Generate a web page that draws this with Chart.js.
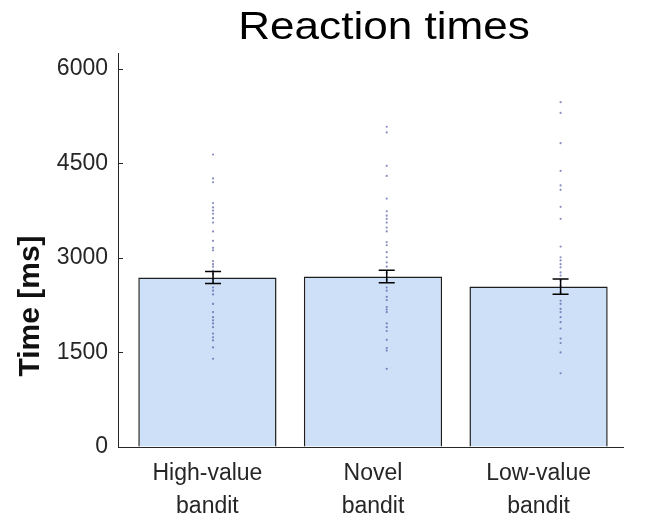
<!DOCTYPE html>
<html><head><meta charset="utf-8">
<script src="https://cdn.jsdelivr.net/npm/chart.js@4/dist/chart.umd.min.js"></script>
<style>html,body{margin:0;padding:0;background:#fff}#wrap{width:649px;height:523px}</style>
</head><body><div id="wrap"><canvas id="c" width="649" height="523"></canvas></div>
<script>
const categories = [["High-value","bandit"],["Novel","bandit"],["Low-value","bandit"]];
const meanRT = [2690, 2705, 2545];
const semRT = [95, 100, 120];
const yTicks = [0, 1500, 3000, 4500, 6000];
const highValueRT = [4640, 4260, 4200, 3870, 3800, 3750, 3700, 3630, 3560, 3420, 3270, 3160, 3120, 2950, 2900, 2860, 2800, 2740, 2660, 2600, 2530, 2480, 2420, 2270, 2140, 2060, 2010, 1960, 1900, 1800, 1740, 1690, 1580, 1400];
const novelRT = [5080, 4990, 4460, 4300, 3940, 3740, 3670, 3620, 3560, 3480, 3420, 3250, 3200, 3090, 3010, 2930, 2860, 2760, 2650, 2530, 2480, 2380, 2330, 2220, 2180, 2140, 1960, 1900, 1840, 1700, 1570, 1530, 1240];
const lowValueRT = [5470, 5300, 4820, 4380, 4150, 4080, 3810, 3620, 3180, 3010, 2960, 2900, 2850, 2770, 2720, 2640, 2560, 2450, 2320, 2270, 2190, 2140, 2060, 1980, 1880, 1720, 1650, 1500, 1170];
const dotColumnX = [1.034, 2.083, 3.133];
const groups = [highValueRT, novelRT, lowValueRT];

const TXT = '#262626';
const FONT = '"Liberation Sans", Arial, sans-serif';

const decor = {
  id: 'decor',
  afterDatasetsDraw(chart) {
    const ctx = chart.ctx, xs = chart.scales.x, ys = chart.scales.y;
    ctx.save();
    ctx.strokeStyle = '#000';
    ctx.lineWidth = 1.5;
    meanRT.forEach((m, i) => {
      const x = xs.getPixelForValue(dotColumnX[i]);
      const yt = ys.getPixelForValue(m + semRT[i]);
      const yb = ys.getPixelForValue(m - semRT[i]);
      ctx.beginPath();
      ctx.moveTo(x, yt); ctx.lineTo(x, yb);
      ctx.moveTo(x - 8, yt); ctx.lineTo(x + 8, yt);
      ctx.moveTo(x - 8, yb); ctx.lineTo(x + 8, yb);
      ctx.stroke();
    });
    ctx.restore();
  },
  afterDraw(chart) {
    const ctx = chart.ctx, ys = chart.scales.y, area = chart.chartArea;
    ctx.save();
    ctx.strokeStyle = TXT; ctx.lineWidth = 1;
    yTicks.forEach(v => {
      const y = Math.round(ys.getPixelForValue(v)) + 0.5;
      ctx.beginPath(); ctx.moveTo(area.left, y); ctx.lineTo(area.left + 5, y); ctx.stroke();
    });
    ctx.fillStyle = '#000';
    ctx.font = '38px ' + FONT;
    ctx.textAlign = 'center'; ctx.textBaseline = 'alphabetic';
    ctx.save();
    ctx.translate(384, 39);
    ctx.scale(1.16, 1);
    ctx.fillText('Reaction times', 0, 0);
    ctx.restore();
    ctx.fillStyle = '#111';
    ctx.font = 'bold 30px ' + FONT;
    ctx.translate(38.5, 306);
    ctx.rotate(-Math.PI / 2);
    ctx.fillText('Time [ms]', 0, 0);
    ctx.restore();
  }
};

const datasets = [{
  type: 'bar',
  data: meanRT.map((v, i) => ({x: i + 1, y: v})),
  backgroundColor: 'rgb(205,224,247)',
  borderColor: '#1e1e1e',
  borderWidth: 1.5,
  barPercentage: 0.835,
  categoryPercentage: 1,
  order: 3
}];
groups.forEach((g, i) => datasets.push({
  type: 'scatter',
  data: g.map(v => ({x: dotColumnX[i], y: v})),
  pointRadius: 1.1,
  pointBorderWidth: 0,
  pointBackgroundColor: 'rgba(70,82,160,0.65)',
  order: 1
}));

new Chart(document.getElementById('c'), {
  type: 'bar',
  data: {datasets},
  plugins: [decor],
  options: {
    responsive: false,
    animation: false,
    devicePixelRatio: 1,
    layout: {padding: {top: 53, right: 26, left: 0, bottom: 0}},
    plugins: {legend: {display: false}, tooltip: {enabled: false}, title: {display: false}},
    scales: {
      x: {
        type: 'linear', position: 'bottom', min: 0.46, max: 3.51, offset: false,
        afterBuildTicks: s => { s.ticks = [1, 2, 3].map(v => ({value: v})); },
        afterFit: s => { s.height = 76; },
        grid: {display: true, drawOnChartArea: false, drawTicks: false},
        border: {display: true, color: TXT, width: 1},
        ticks: {
          autoSkip: false, maxRotation: 0, padding: 10, color: TXT,
          font: {family: FONT, size: 23, lineHeight: 1.43},
          callback: v => categories[Math.round(v) - 1]
        }
      },
      y: {
        min: 0, max: 6250,
        afterBuildTicks: s => { s.ticks = yTicks.map(v => ({value: v})); },
        afterFit: s => { s.width = 118; },
        grid: {display: true, drawOnChartArea: false, drawTicks: false},
        border: {display: true, color: TXT, width: 1},
        ticks: {padding: 10, color: TXT, font: {family: FONT, size: 23}, callback: v => String(v)}
      }
    }
  }
});
</script></body></html>
